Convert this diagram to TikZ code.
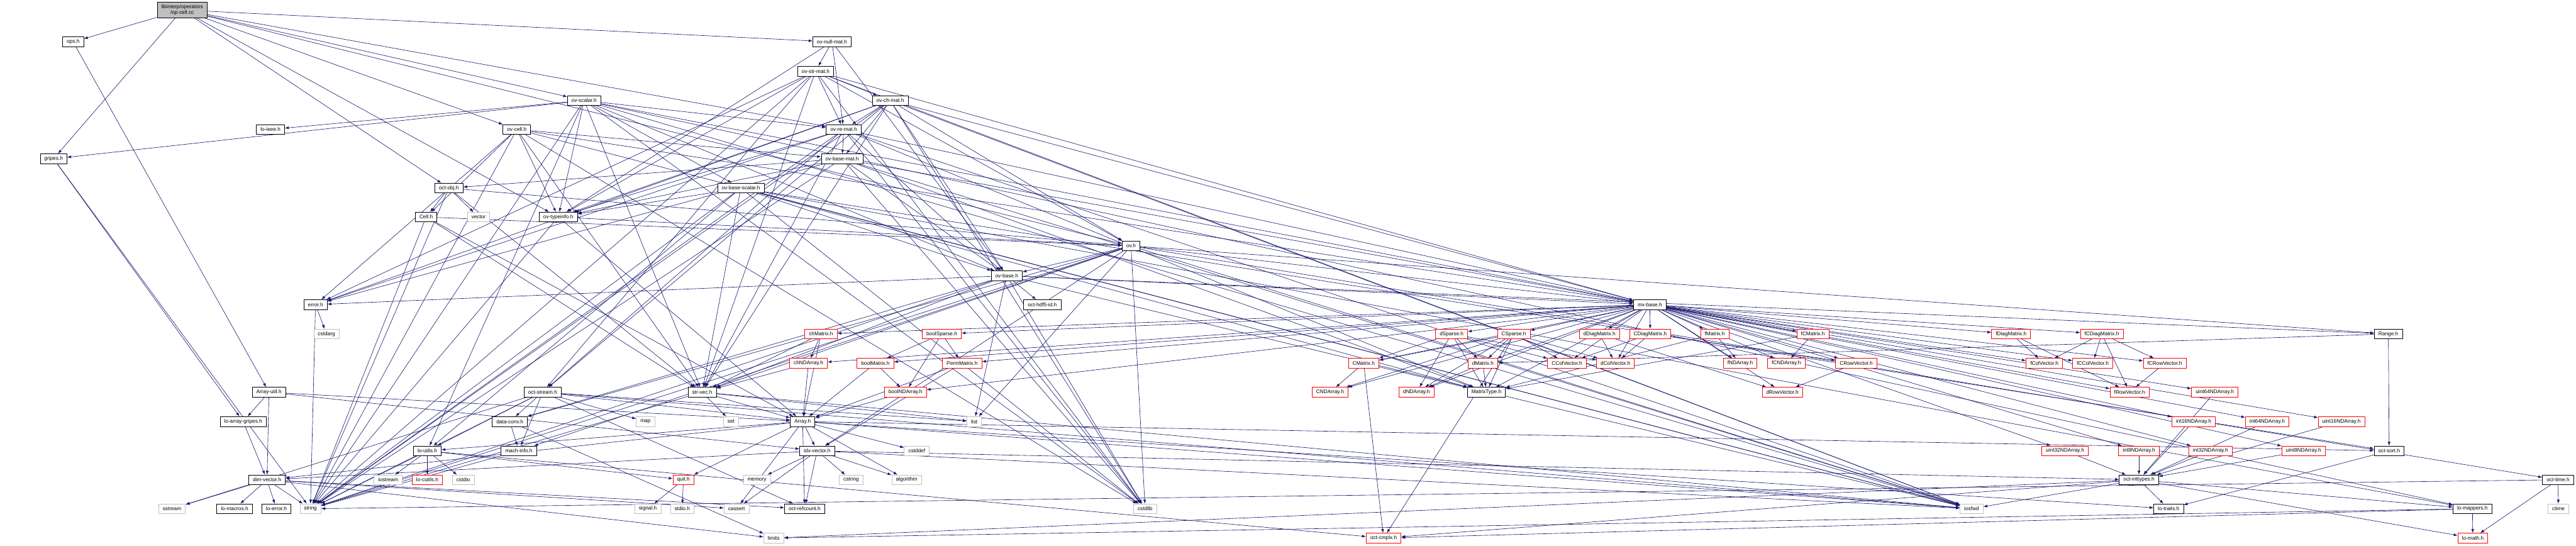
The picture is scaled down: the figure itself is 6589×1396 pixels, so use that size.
\documentclass[tikz,border=0pt]{standalone}
\usepackage{fontspec}
\setmainfont{Liberation Sans}
\usetikzlibrary{arrows.meta,backgrounds}
\definecolor{depNavy}{HTML}{191970}
\definecolor{depGray}{HTML}{BFBFBF}
\definecolor{depRed}{HTML}{FF0000}
\tikzset{
  dep base/.style={rectangle, fill=white, line width=0.9pt, minimum height=18.75pt, inner xsep=7.9pt, inner ysep=0pt, font=\fontsize{10}{12}\selectfont},
  dep file/.style={dep base, draw=black},
  dep sys/.style={dep base, draw=depGray},
  dep cut/.style={dep base, draw=depRed},
  dep root/.style={dep base, draw=black, fill=depGray, align=center, minimum height=30.75pt, font=\fontsize{10}{11}\selectfont},
  dep edge/.style={draw=depNavy, line width=0.75pt, -{Latex[length=7.5pt,width=5.5pt]}},
}

\begin{document}
\begin{tikzpicture}[x=0.75pt,y=-0.75pt]
\useasboundingbox (0,0) rectangle (6589,1396);
\node[dep root] (opcell) at (466,25.5) {libinterp/operators\\/op-cell.cc};
% headers with a page of their own
\foreach \nm/\txt/\px/\py in {ops/ops.h/187/107, nullmat/ov-null-mat.h/2128/107,
  strmat/ov-str-mat.h/2086/182, ovscalar/ov-scalar.h/1494/257, chmat/ov-ch-mat.h/2277/257,
  ieee/lo-ieee.h/692/331, ovcell/ov-cell.h/1322/331, remat/ov-re-mat.h/2158/331,
  gripes/gripes.h/137/406, basemat/ov-base-mat.h/2154/406,
  octobj/oct-obj.h/1148/481, basescalar/ov-base-scalar.h/1895/481,
  cell/Cell.h/1090/555, typeinfo/ov-typeinfo.h/1428/555, ov/ov.h/2893/629,
  ovbase/ov-base.h/2575/705, errorh/error.h/807/779, hdfid/oct-hdf5-id.h/2666/779,
  mxbase/mx-base.h/4220/779, Range/Range.h/6109/854,
  ArrayUtil/Array-util.h/688/1003, octstream/oct-stream.h/1388/1003, strvec/str-vec.h/1796/1003,
  MatrixType/MatrixType.h/3802/1003, loarraygripes/lo-array-gripes.h/622/1078,
  dataconv/data-conv.h/1304/1078, Array/Array.h/2053/1078,
  loutils/lo-utils.h/1093/1153, machinfo/mach-info.h/1327/1153, idxvector/idx-vector.h/2090/1153,
  octsort/oct-sort.h/6111/1153, dimvector/dim-vector.h/683/1227, inttypes/oct-inttypes.h/5471/1227,
  octtime/oct-time.h/6543/1227, lomacros/lo-macros.h/600/1301, loerror/lo-error.h/707/1301,
  refcount/oct-refcount.h/2058/1301, lotraits/lo-traits.h/5547/1301, lomappers/lo-mappers.h/6324/1301}
  \node[dep file] (\nm) at (\px,\py) {\txt};
% system headers
\foreach \nm/\txt/\px/\py in {vector/vector/1224/555, cstdarg/cstdarg/835/854,
  map/map/1651/1078, set/set/1870/1078, list/list/2492/1078, cstddef/cstddef/2345/1153,
  iostream/iostream/993/1227, cstdio/cstdio/1185/1227, memory/memory/1936/1227,
  cstring/cstring/2177/1227, algorithm/algorithm/2319/1227,
  sstream/sstream/440/1301, string/string/794/1301, sig/signal.h/1657/1301, stdioh/stdio.h/1745/1301,
  cassert/cassert/1884/1301, cstdlib/cstdlib/2929/1301, iosfwd/iosfwd/5043/1301,
  ctime/ctime/6544/1301, limits/limits/1979/1376}
  \node[dep sys] (\nm) at (\px,\py) {\txt};
% truncated headers
\foreach \nm/\txt/\px/\py in {chMatrix/chMatrix.h/2100/854, boolSparse/boolSparse.h/2409/854,
  dSparse/dSparse.h/3713/854, CSparse/CSparse.h/3872/854, dDiag/dDiagMatrix.h/4091/854,
  CDiag/CDiagMatrix.h/4221/854, fMatrix/fMatrix.h/4386/854, fCMatrix/fCMatrix.h/4637/854,
  fDiag/fDiagMatrix.h/5144/854, fCDiag/fCDiagMatrix.h/5376/854,
  chNDA/chNDArray.h/2068/929, boolMatrix/boolMatrix.h/2239/929, PermMatrix/PermMatrix.h/2461/929,
  CMatrix/CMatrix.h/3488/929, dMatrix/dMatrix.h/3793/929, CColVec/CColVector.h/4008/929,
  dColVec/dColVector.h/4132/929, fNDA/fNDArray.h/4451/929, fCNDA/fCNDArray.h/4569/929,
  CRowVec/CRowVector.h/4748/929, fColVec/fColVector.h/5229/929, fCColVec/fCColVector.h/5353/929,
  fCRowVec/fCRowVector.h/5537/929, boolNDA/boolNDArray.h/2316/1003, CNDA/CNDArray.h/3402/1003,
  dNDA/dNDArray.h/3623/1003, dRowVec/dRowVector.h/4559/1003, fRowVec/fRowVector.h/5447/1003,
  u64/uint64NDArray.h/5665/1003, i16/int16NDArray.h/5611/1078, i64/int64NDArray.h/5799/1078,
  u16/uint16NDArray.h/5989/1078, u32/uint32NDArray.h/5282/1153, i8/int8NDArray.h/5471/1153,
  i32/int32NDArray.h/5654/1153, u8/uint8NDArray.h/5892/1153,
  locutils/lo-cutils.h/1093/1227, quit/quit.h/1748/1227,
  octcmplx/oct-cmplx.h/3539/1376, lomath/lo-math.h/6325/1376}
  \node[dep cut] (\nm) at (\px,\py) {\txt};
% include edges
\begin{scope}[on background layer]
\fill[white] (0,0) rectangle (6589,1396);
\foreach \dst in {gripes,octobj,ov,ovcell,ovscalar,remat,typeinfo,nullmat,ops} \draw[dep edge] (opcell) -- (\dst);
\draw[dep edge] (ops) -- (ArrayUtil);
\foreach \dst in {loarraygripes,string} \draw[dep edge] (gripes) -- (\dst);
\foreach \dst in {ovbase,remat,strmat,typeinfo} \draw[dep edge] (nullmat) -- (\dst);
\foreach \dst in {cstdlib,iosfwd,string,mxbase,strvec,errorh,octstream,ov,chmat,remat,typeinfo} \draw[dep edge] (strmat) -- (\dst);
\foreach \dst in {cstdlib,iosfwd,string,ieee,lomappers,loutils,mxbase,strvec,gripes,ovbase,remat,basescalar,typeinfo} \draw[dep edge] (ovscalar) -- (\dst);
\foreach \dst in {cstdlib,iosfwd,string,mxbase,strvec,errorh,octstream,ov,ovbase,basemat,remat,typeinfo} \draw[dep edge] (chmat) -- (\dst);
\foreach \dst in {cstdlib,iosfwd,string,mxbase,strvec,cell,errorh,basemat,typeinfo} \draw[dep edge] (ovcell) -- (\dst);
\foreach \dst in {cstdlib,iosfwd,string,mxbase,strvec,errorh,octstream,ovbase,basemat,typeinfo,MatrixType} \draw[dep edge] (remat) -- (\dst);
\foreach \dst in {cstdlib,iosfwd,string,mxbase,MatrixType,errorh,octobj,ovbase,typeinfo} \draw[dep edge] (basemat) -- (\dst);
\foreach \dst in {string,vector,strvec,cell,ov} \draw[dep edge] (octobj) -- (\dst);
\foreach \dst in {cstdlib,iosfwd,string,lomappers,loutils,octsort,strvec,MatrixType,ovbase,typeinfo} \draw[dep edge] (basescalar) -- (\dst);
\foreach \dst in {string,Array,strvec,ov} \draw[dep edge] (cell) -- (\dst);
\foreach \dst in {string,Array,ov} \draw[dep edge] (typeinfo) -- (\dst);
\foreach \dst in {cstdlib,iosfwd,string,list,Range,dataconv,idxvector,machinfo,mxbase,octtime,strvec,ovbase} \draw[dep edge] (ov) -- (\dst);
\foreach \dst in {cstdlib,iosfwd,list,string,Range,dataconv,mxbase,strvec,errorh,hdfid} \draw[dep edge] (ovbase) -- (\dst);
\foreach \dst in {cstdarg,string} \draw[dep edge] (errorh) -- (\dst);
\foreach \dst in {MatrixType,boolMatrix,chMatrix,dMatrix,CMatrix,fMatrix,fCMatrix,dColVec,CColVec,fColVec,fCColVec,
  dRowVec,CRowVec,fRowVec,fCRowVec,dDiag,CDiag,fDiag,fCDiag,PermMatrix,boolSparse,dSparse,CSparse,
  boolNDA,chNDA,dNDA,CNDA,fNDA,fCNDA,i8,i16,i32,i64,u8,u16,u32,u64} \draw[dep edge] (mxbase) -- (\dst);
\foreach \dst in {chNDA,strvec,Array} \draw[dep edge] (chMatrix) -- (\dst);
\foreach \dst in {Array,strvec} \draw[dep edge] (chNDA) -- (\dst);
\foreach \dst in {boolMatrix,boolNDA,PermMatrix} \draw[dep edge] (boolSparse) -- (\dst);
\foreach \dst in {boolNDA,Array} \draw[dep edge] (boolMatrix) -- (\dst);
\foreach \dst in {Array,idxvector} \draw[dep edge] (PermMatrix) -- (\dst);
\draw[dep edge] (boolNDA) -- (Array);
\foreach \dst in {CMatrix,dMatrix,dNDA,MatrixType,CColVec,dColVec} \draw[dep edge] (dSparse) -- (\dst);
\foreach \dst in {CMatrix,dMatrix,dNDA,CNDA,MatrixType,CColVec,dColVec,octcmplx} \draw[dep edge] (CSparse) -- (\dst);
\foreach \dst in {dColVec,dRowVec} \draw[dep edge] (dDiag) -- (\dst);
\foreach \dst in {CColVec,dColVec,CRowVec} \draw[dep edge] (CDiag) -- (\dst);
\foreach \dst in {CNDA,MatrixType,octcmplx} \draw[dep edge] (CMatrix) -- (\dst);
\foreach \dst in {dNDA,MatrixType} \draw[dep edge] (dMatrix) -- (\dst);
\foreach \dst in {fNDA,MatrixType} \draw[dep edge] (fMatrix) -- (\dst);
\foreach \dst in {fCNDA,MatrixType} \draw[dep edge] (fCMatrix) -- (\dst);
\foreach \dst in {fColVec,fRowVec} \draw[dep edge] (fDiag) -- (\dst);
\foreach \dst in {fColVec,fCColVec,fRowVec,fCRowVec} \draw[dep edge] (fCDiag) -- (\dst);
\draw[dep edge] (CRowVec) -- (dRowVec);
\draw[dep edge] (fCRowVec) -- (fRowVec);
\foreach \dst in {dMatrix,octsort} \draw[dep edge] (Range) -- (\dst);
\foreach \dst in {Array,dimvector,idxvector,loarraygripes} \draw[dep edge] (ArrayUtil) -- (\dst);
\draw[dep edge] (loarraygripes) -- (dimvector);
\foreach \dst in {iosfwd,sstream,string,map,list,Array,dataconv,loutils,machinfo,refcount} \draw[dep edge] (octstream) -- (\dst);
\foreach \dst in {iosfwd,list,set,string,Array} \draw[dep edge] (strvec) -- (\dst);
\foreach \dst in {limits,machinfo} \draw[dep edge] (dataconv) -- (\dst);
\draw[dep edge] (machinfo) -- (string);
\foreach \dst in {cassert,cstddef,algorithm,iosfwd,dimvector,idxvector,lotraits,loutils,octsort,quit,refcount} \draw[dep edge] (Array) -- (\dst);
\foreach \dst in {cassert,cstring,algorithm,iosfwd,memory,dimvector,inttypes,refcount} \draw[dep edge] (idxvector) -- (\dst);
\foreach \dst in {cstdio,iostream,string,locutils,octcmplx,quit} \draw[dep edge] (loutils) -- (\dst);
\foreach \dst in {cassert,limits,sstream,string,loerror,lomacros,refcount} \draw[dep edge] (dimvector) -- (\dst);
\foreach \dst in {sig,stdioh} \draw[dep edge] (quit) -- (\dst);
\foreach \dst in {limits,iosfwd,lomath,lotraits,lomappers,octcmplx} \draw[dep edge] (inttypes) -- (\dst);
\draw[dep edge] (octsort) -- (lotraits);
\foreach \dst in {ctime,string,lomath} \draw[dep edge] (octtime) -- (\dst);
\foreach \dst in {limits,octcmplx,lomath} \draw[dep edge] (lomappers) -- (\dst);
\foreach \src in {i8,i16,i32,i64,u8,u16,u32,u64} \draw[dep edge] (\src) -- (inttypes);
\end{scope}
\end{tikzpicture}
\end{document}
